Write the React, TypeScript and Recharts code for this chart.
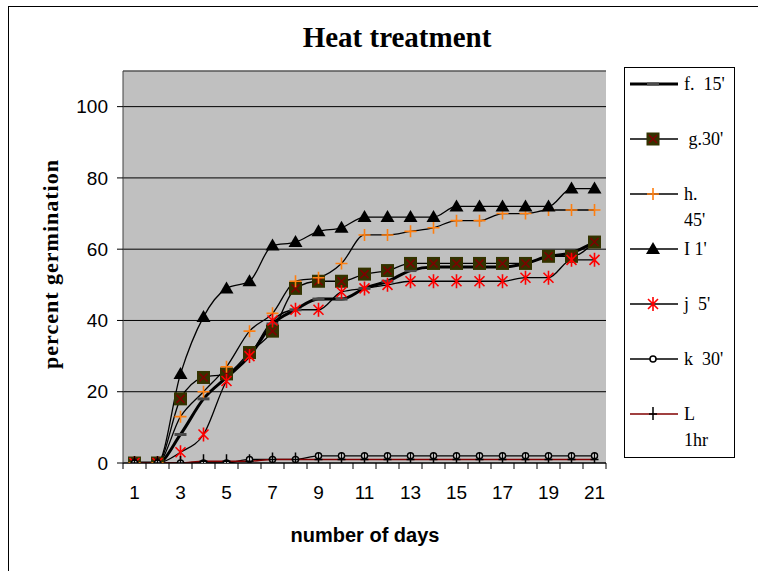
import { LineChart, Line, XAxis, YAxis, CartesianGrid, ReferenceLine } from "recharts"

const days = ["1", "2", "3", "4", "5", "6", "7", "8", "9", "10", "11", "12", "13", "14", "15", "16", "17", "18", "19", "20", "21"]

const f15 = [0, 0, 8, 18, 24, 30, 39, 43, 46, 46, 49, 51, 54, 55, 55, 55, 55, 56, 58, 59, 62]
const g30 = [0, 0, 18, 24, 25, 31, 37, 49, 51, 51, 53, 54, 56, 56, 56, 56, 56, 56, 58, 58, 62]
const h45 = [0, 0, 13, 20, 27, 37, 42, 51, 52, 56, 64, 64, 65, 66, 68, 68, 70, 70, 71, 71, 71]
const i1 = [0, 0, 25, 41, 49, 51, 61, 62, 65, 66, 69, 69, 69, 69, 72, 72, 72, 72, 72, 77, 77]
const j5 = [0, 0, 3, 8, 23, 30, 40, 43, 43, 48, 49, 50, 51, 51, 51, 51, 51, 52, 52, 57, 57]
const k30 = [0, 0, 0, 0, 0, 1, 1, 1, 2, 2, 2, 2, 2, 2, 2, 2, 2, 2, 2, 2, 2]
const l1hr = [0, 0, 0, 0.5, 0.5, 0.5, 1, 1, 1, 1, 1, 1, 1, 1, 1, 1, 1, 1, 1, 1, 1]

const yTicks = [0, 20, 40, 60, 80, 100]

const data = days.map((d, i) => ({
  day: d,
  f: f15[i],
  g: g30[i],
  h: h45[i],
  I: i1[i],
  j: j5[i],
  k: k30[i],
  L: l1hr[i],
}))

// marker shapes, drawn around (cx, cy)
const markers: Record<string, (cx: number, cy: number) => JSX.Element> = {
  dash: (cx, cy) => <rect x={cx - 6} y={cy - 1.5} width={12} height={3} fill="#4a4a4a" />,
  square: (cx, cy) => (
    <g>
      <rect x={cx - 6.5} y={cy - 6.5} width={13} height={13} fill="#333300" />
      <path d={`M${cx - 4},${cy - 4}L${cx + 4},${cy + 4}M${cx + 4},${cy - 4}L${cx - 4},${cy + 4}`} stroke="#800000" strokeWidth={1.5} />
    </g>
  ),
  plus: (cx, cy) => (
    <path d={`M${cx - 6},${cy}L${cx + 6},${cy}M${cx},${cy - 6}L${cx},${cy + 6}`} stroke="#ff7f10" strokeWidth={1.6} fill="none" />
  ),
  triangle: (cx, cy) => <path d={`M${cx},${cy - 7}L${cx + 7},${cy + 5}L${cx - 7},${cy + 5}Z`} fill="#000" />,
  star: (cx, cy) => (
    <path
      d={`M${cx - 5},${cy - 5}L${cx + 5},${cy + 5}M${cx + 5},${cy - 5}L${cx - 5},${cy + 5}M${cx},${cy - 7}L${cx},${cy + 7}`}
      stroke="#ff0000"
      strokeWidth={1.6}
      fill="none"
    />
  ),
  circle: (cx, cy) => <circle cx={cx} cy={cy} r={3} fill="#fff" stroke="#000" strokeWidth={1.5} />,
  cross: (cx, cy) => (
    <path d={`M${cx - 4},${cy}L${cx + 4},${cy}M${cx},${cy - 7}L${cx},${cy + 6}`} stroke="#000" strokeWidth={1.5} fill="none" />
  ),
}

const series = [
  { key: "f", name: ["f.  15'"], stroke: "#000", width: 3, marker: "dash" },
  { key: "g", name: [" g.30'"], stroke: "#000", width: 1.3, marker: "square" },
  { key: "h", name: ["h.", "45'"], stroke: "#000", width: 1.3, marker: "plus" },
  { key: "I", name: ["I 1'"], stroke: "#000", width: 1.3, marker: "triangle" },
  { key: "j", name: ["j  5'"], stroke: "#000", width: 1.3, marker: "star" },
  { key: "k", name: ["k  30'"], stroke: "#000", width: 1.3, marker: "circle" },
  { key: "L", name: ["L", "1hr"], stroke: "#800000", width: 1.5, marker: "cross" },
]

const DayTick = (props: any) => {
  const { x, y, payload, index } = props
  const axisY = y - 23
  return (
    <g>
      <line x1={x - 11.5} y1={axisY} x2={x - 11.5} y2={axisY + 6} stroke="#000" />
      {index === days.length - 1 && <line x1={x + 11.5} y1={axisY} x2={x + 11.5} y2={axisY + 6} stroke="#000" />}
      {index % 2 === 0 && (
        <text x={x} y={y} dy="0.71em" textAnchor="middle" fontSize={19} fontFamily="Liberation Sans, Arial" fill="#000">
          {payload.value}
        </text>
      )}
    </g>
  )
}

export default function App() {
  return (
    <div style={{ position: "relative", width: 758, height: 571, overflow: "hidden", background: "#fff" }}>
      <style>{"body{margin:0}"}</style>
      <div
        style={{
          position: "absolute",
          left: 8,
          top: 6,
          width: 770,
          height: 600,
          borderLeft: "1px solid #000",
          borderTop: "1px solid #000",
        }}
      />
      <div
        style={{
          position: "absolute",
          left: 197,
          top: 21,
          width: 400,
          textAlign: "center",
          fontFamily: "Liberation Serif, Times New Roman, serif",
          fontWeight: "bold",
          fontSize: 29,
          lineHeight: "32px",
        }}
      >
        Heat treatment
      </div>

      <div style={{ position: "absolute", left: 0, top: 0 }}>
        <LineChart width={758} height={571} data={data} margin={{ top: 71, right: 152, bottom: 78, left: 63 }}>
          <CartesianGrid vertical={false} stroke="#000" fill="#c0c0c0" fillOpacity={1} />
          <ReferenceLine y={110} stroke="#808080" />
          <XAxis
            dataKey="day"
            padding={{ left: 11.5, right: 11.5 }}
            interval={0}
            tickLine={false}
            tickSize={6}
            tickMargin={17}
            tick={<DayTick />}
            height={30}
            axisLine={{ stroke: "#000" }}
            label={{
              content: () => (
                <text x={365} y={542} textAnchor="middle" fontSize={20} fontWeight="bold" fontFamily="Liberation Sans, Arial">
                  number of days
                </text>
              ),
            }}
          />
          <YAxis
            domain={[0, 110]}
            ticks={yTicks}
            width={60}
            tickSize={6}
            tickMargin={9}
            allowDataOverflow
            axisLine={{ stroke: "#404040" }}
            tickLine={{ stroke: "#000" }}
            tick={{ fontSize: 19, fill: "#000", fontFamily: "Liberation Sans, Arial" }}
            label={{
              content: () => (
                <text
                  x={50}
                  y={264}
                  transform="rotate(-90 50 264)"
                  textAnchor="middle"
                  dominantBaseline="central"
                  fontSize={22}
                  fontWeight="bold"
                  letterSpacing={1}
                  fontFamily="Liberation Serif, Times New Roman, serif"
                >
                  percent germination
                </text>
              ),
            }}
          />
          <YAxis yAxisId="r" orientation="right" width={0} domain={[0, 110]} tick={false} tickLine={false} axisLine={{ stroke: "#808080" }} />
          {series.map((s) => (
            <Line
              key={s.key}
              type="monotone"
              dataKey={s.key}
              name={s.name.join(" ")}
              stroke={s.stroke}
              strokeWidth={s.width}
              isAnimationActive={false}
              dot={(p: any) => <g key={`${s.key}-${p.index}`}>{markers[s.marker](p.cx, p.cy)}</g>}
              activeDot={false}
            />
          ))}
        </LineChart>
      </div>

      {/* legend box */}
      <div
        style={{
          position: "absolute",
          left: 624,
          top: 67,
          width: 109,
          height: 389,
          border: "1px solid #000",
          background: "#fff",
          fontFamily: "Liberation Serif, Times New Roman, serif",
          fontSize: 18,
        }}
      >
        {series.map((s, i) => (
          <div key={s.key} style={{ position: "absolute", left: 4, top: 16 + i * 55 - 11, display: "flex" }}>
            <svg width={50} height={22} style={{ flex: "none" }}>
              <line x1={1} y1={11} x2={49} y2={11} stroke={s.stroke} strokeWidth={s.width === 3 ? 3 : 1.5} />
              {markers[s.marker](24, 11)}
            </svg>
            <div style={{ marginLeft: 5, lineHeight: "22px", whiteSpace: "pre" }}>
              {s.name.map((n, k) => (
                <div key={k} style={{ marginTop: k > 0 ? 4 : 0 }}>
                  {n}
                </div>
              ))}
            </div>
          </div>
        ))}
      </div>
    </div>
  )
}
